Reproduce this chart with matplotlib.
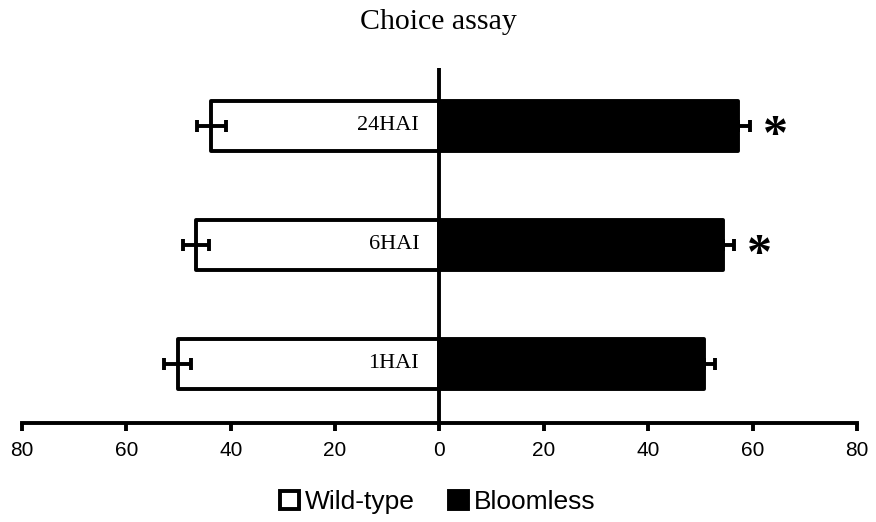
import matplotlib
matplotlib.use("Agg")
import matplotlib.pyplot as plt
from matplotlib.patches import Patch

categories = ["1HAI", "6HAI", "24HAI"]
wild_type = [50.2, 46.6, 43.7]
wild_type_err = [2.6, 2.5, 2.8]
bloomless = [50.7, 54.4, 57.2]
bloomless_err = [2.0, 2.0, 2.3]
significant = [False, True, True]
tick_values = [-80, -60, -40, -20, 0, 20, 40, 60, 80]
tick_labels = ["80", "60", "40", "20", "0", "20", "40", "60", "80"]

serif = ["Liberation Serif", "DejaVu Serif"]
sans = ["Liberation Sans", "DejaVu Sans"]
LW = 2.8

fig = plt.figure(figsize=(8.76, 5.22), dpi=100)
ax = fig.add_axes([0.0251, 0.1897, 0.9532, 0.68])

y = list(range(len(categories)))
h = 0.42
b1 = ax.barh(y, [-v for v in wild_type], height=h, color="white", edgecolor="black", linewidth=LW, zorder=2)
b2 = ax.barh(y, bloomless, height=h, color="black", edgecolor="black", linewidth=LW, zorder=2)
for p in list(b1) + list(b2):
    p.set_joinstyle("round")
ax.errorbar([-v for v in wild_type], y, xerr=wild_type_err, fmt="none", ecolor="black",
            elinewidth=LW, capsize=4.5, capthick=LW, zorder=3)
ax.errorbar(bloomless, y, xerr=[[0] * len(y), bloomless_err], fmt="none", ecolor="black",
            elinewidth=LW, capsize=4.5, capthick=LW, zorder=1)

for yi, cat in zip(y, categories):
    ax.text(-3.9, yi, cat, ha="right", va="center", fontsize=16, family=serif, zorder=4)

for yi, b, e, s in zip(y, bloomless, bloomless_err, significant):
    if s:
        ax.annotate("*", xy=(b + e, yi), xytext=(18.5, -8), textcoords="offset points",
                    ha="center", va="center", fontsize=36, family=serif, fontweight="bold")

ax.axvline(0, color="black", linewidth=LW, zorder=5)
ax.set_xlim(-80, 80)
ax.set_ylim(-0.496, 2.487)
ax.set_xticks(tick_values)
ax.set_xticklabels(tick_labels, family=sans, fontsize=15)
ax.set_yticks([])
for side in ["left", "right", "top"]:
    ax.spines[side].set_visible(False)
ax.spines["bottom"].set_linewidth(LW)
ax.tick_params(axis="x", direction="out", length=6, width=LW, pad=7)

fig.text(0.5, 0.958, "Choice assay", ha="center", va="center", fontsize=21.5, family=serif)

handles = [Patch(facecolor="white", edgecolor="black", linewidth=LW, label="Wild-type"),
           Patch(facecolor="black", edgecolor="black", linewidth=LW, label="Bloomless")]
fig.legend(handles=handles, loc="center", bbox_to_anchor=(0.5, 0.038), ncol=2, frameon=False,
           prop={"family": sans, "size": 19}, handlelength=0.7, handleheight=0.7,
           handletextpad=0.25, columnspacing=1.3)

fig.savefig("out.png", dpi=100)
